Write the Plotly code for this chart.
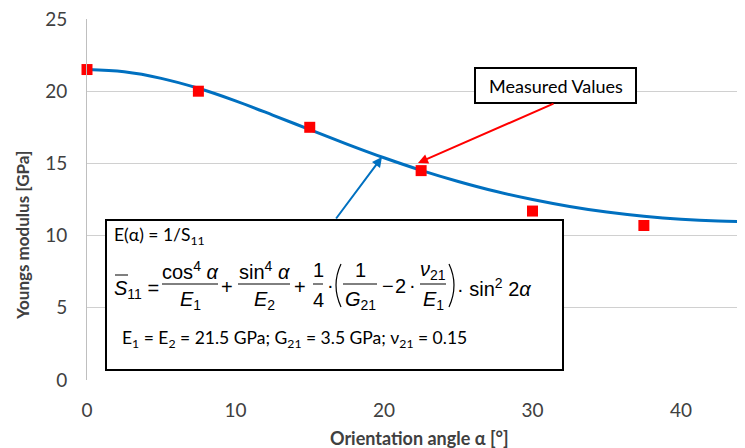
import plotly.graph_objects as go

# ---- data ----
curve_angle = [0, 2.5, 5, 7.5, 10, 12.5, 15, 17.5, 20, 22.5, 25, 27.5, 30, 32.5, 35, 37.5, 40, 42.5, 45]
curve_modulus = [21.5, 21.34, 20.89, 20.2, 19.33, 18.35, 17.34, 16.34, 15.39, 14.52, 13.75, 13.07,
                 12.5, 12.02, 11.63, 11.34, 11.13, 11.01, 10.97]
meas_angle = [0, 7.5, 15, 22.5, 30, 37.5]
meas_modulus = [21.5, 20.0, 17.5, 14.5, 11.7, 10.7]
x_ticks = [0, 10, 20, 30, 40]
y_ticks = [0, 5, 10, 15, 20, 25]

OFF = 8  # page body margin
W, H = 745 - OFF, 448 - OFF
# plot area in page pixels
L, R, T, B = 87, 745, 19, 380


def px(x):
    return (x - L) / (R - L)


def py(y):
    return (B - y) / (B - T)


BLUE = "#0070C0"
RED = "#FF0000"
TXT = "#404040"

fig = go.Figure()
fig.add_trace(go.Scatter(x=curve_angle, y=curve_modulus, mode="lines",
                         line=dict(color=BLUE, width=3, shape="spline"),
                         hoverinfo="skip", showlegend=False))
fig.add_trace(go.Scatter(x=meas_angle, y=meas_modulus, mode="markers",
                         marker=dict(symbol="square", size=11, color=RED),
                         showlegend=False, cliponaxis=False))

shapes = []
ann = []

# formula box
shapes.append(dict(type="rect", xref="paper", yref="paper",
                   x0=px(106), x1=px(563), y0=py(370), y1=py(220),
                   line=dict(color="black", width=2), fillcolor="white", layer="above"))
# measured values box
shapes.append(dict(type="rect", xref="paper", yref="paper",
                   x0=px(475), x1=px(636), y0=py(103), y1=py(68),
                   line=dict(color="black", width=2), fillcolor="white", layer="above"))
ann.append(dict(xref="paper", yref="paper", x=px(555.5), y=py(85.5), text="Measured Values",
                showarrow=False, xanchor="center", yanchor="middle",
                font=dict(family="Lato", size=18, color="black")))

# arrows
ann.append(dict(xref="paper", yref="paper", x=px(418), y=py(163), ax=555 - 418, ay=103 - 163,
                showarrow=True, arrowhead=2, arrowsize=1, arrowwidth=2, arrowcolor=RED, text=""))
ann.append(dict(xref="paper", yref="paper", x=px(382), y=py(157), ax=335 - 382, ay=220 - 157,
                showarrow=True, arrowhead=2, arrowsize=1, arrowwidth=2, arrowcolor=BLUE, text=""))

MF = "Liberation Sans"
FS = 20


def t(x, y, text, size=FS, xanchor="center", family=MF):
    ann.append(dict(xref="paper", yref="paper", x=px(x), y=py(y), text=text, showarrow=False,
                    xanchor=xanchor, yanchor="middle", font=dict(family=family, size=size, color="black")))


def frac(xc, x0, x1, num, den):
    t(xc, 270, num)
    t(xc, 300, den)
    shapes.append(dict(type="line", xref="paper", yref="paper", x0=px(x0), x1=px(x1),
                       y0=py(284), y1=py(284), line=dict(color="black", width=1), layer="above"))


t(112, 236, "E(α) = 1/S<sub>11</sub>", size=17.5, xanchor="left", family="Lato")
t(112, 289, "<i>S</i><sub>11</sub> =", xanchor="left")
shapes.append(dict(type="line", xref="paper", yref="paper", x0=px(115), x1=px(128),
                   y0=py(275), y1=py(275), line=dict(color="black", width=1), layer="above"))
frac(190, 162, 218, "cos<sup>4</sup> <i>α</i>", "<i>E</i><sub>1</sub>")
t(227, 287, "+")
frac(264, 238, 290, "sin<sup>4</sup> <i>α</i>", "<i>E</i><sub>2</sub>")
t(300, 287, "+")
frac(318, 313, 323, "1", "4")
t(330, 285, "·")
frac(360, 343, 377, "1", "<i>G</i><sub>21</sub>")
t(388, 286, "−")
t(400, 286, "2")
t(412, 285, "·")
frac(433, 420, 446, "<i>ν</i><sub>21</sub>", "<i>E</i><sub>1</sub>")
# parentheses
for xa, xb in ((341, 336), (449, 454)):
    path = "M {:.5f},{:.5f} Q {:.5f},{:.5f} {:.5f},{:.5f}".format(
        px(xa), py(264), px(2 * xb - xa), py(285), px(xa), py(307))
    shapes.append(dict(type="path", xref="paper", yref="paper", path=path,
                       line=dict(color="black", width=1.2), layer="above"))
t(455, 287, "· sin<sup>2</sup> 2<i>α</i>", xanchor="left")
t(120, 339, "E<sub>1</sub> = E<sub>2</sub> = 21.5 GPa; G<sub>21</sub> = 3.5 GPa; ν<sub>21</sub> = 0.15",
  size=17.5, xanchor="left", family="Lato")

# axis titles
ann.append(dict(xref="paper", yref="paper", x=px(419), y=py(438), text="<b>Orientation angle α [°]</b>",
                showarrow=False, xanchor="center", yanchor="middle",
                font=dict(family="Lato", size=18, color=TXT)))
ann.append(dict(xref="paper", yref="paper", x=px(22), y=py(236), text="<b>Youngs modulus [GPa]</b>",
                showarrow=False, textangle=-90, xanchor="center", yanchor="middle",
                font=dict(family="Lato", size=17, color=TXT)))

fig.update_layout(
    width=W, height=H,
    margin=dict(l=L - OFF, r=745 - R, t=T - OFF, b=448 - B, autoexpand=False),
    paper_bgcolor="white", plot_bgcolor="white",
    shapes=shapes, annotations=ann,
    xaxis=dict(range=[0, (R - L) / 14.85], tickvals=x_ticks, showgrid=False, zeroline=False,
               showline=False, ticks="", ticklabelstandoff=17, automargin=False,
               tickfont=dict(family="Lato", size=19, color=TXT)),
    yaxis=dict(range=[0, 25.0001], tickvals=y_ticks, showgrid=True, gridcolor="#D0D0D0", gridwidth=1,
               zeroline=False, showline=True, linecolor="#BFBFBF", linewidth=1, ticks="",
               ticklabelstandoff=15, automargin=False, ticklabeloverflow="allow",
               tickfont=dict(family="Lato", size=19, color=TXT)),
    showlegend=False,
)

fig.write_html("out.html")
